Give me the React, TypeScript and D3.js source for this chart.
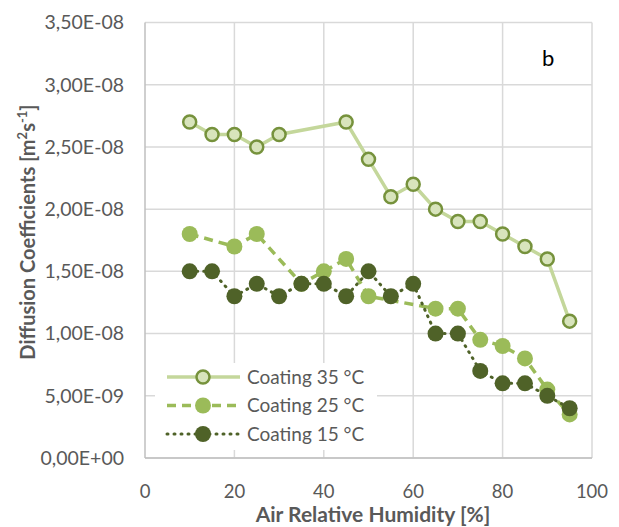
import * as d3 from "d3";

const rh35 = [10, 15, 20, 25, 30, 45, 50, 55, 60, 65, 70, 75, 80, 85, 90, 95];
const d35 = [2.7, 2.6, 2.6, 2.5, 2.6, 2.7, 2.4, 2.1, 2.2, 2.0, 1.9, 1.9, 1.8, 1.7, 1.6, 1.1];
const rh25 = [10, 20, 25, 35, 40, 45, 50, 65, 70, 75, 80, 85, 90, 95];
const d25 = [1.8, 1.7, 1.8, 1.4, 1.5, 1.6, 1.3, 1.2, 1.2, 0.95, 0.9, 0.8, 0.55, 0.35];
const rh15 = [10, 15, 20, 25, 30, 35, 40, 45, 50, 55, 60, 65, 70, 75, 80, 85, 90, 95];
const d15 = [1.5, 1.5, 1.3, 1.4, 1.3, 1.4, 1.4, 1.3, 1.5, 1.3, 1.4, 1.0, 1.0, 0.7, 0.6, 0.6, 0.5, 0.4];
const yTicks = [0, 0.5, 1.0, 1.5, 2.0, 2.5, 3.0, 3.5];
const yTickLabels = ["0,00E+00", "5,00E-09", "1,00E-08", "1,50E-08", "2,00E-08", "2,50E-08", "3,00E-08", "3,50E-08"];
const xTicks = [0, 20, 40, 60, 80, 100];
const seriesNames = ["Coating 35 °C", "Coating 25 °C", "Coating 15 °C"];

const FONT = "Lato, 'Open Sans', sans-serif";
const TXT = "#595959";

const series = [
  { name: seriesNames[0], xs: rh35, ys: d35, line: "#c4d79b", dash: null, width: 3.5, fill: "#d8e4bc", stroke: "#76923c" },
  { name: seriesNames[1], xs: rh25, ys: d25, line: "#9bbb59", dash: "9,6", width: 3.5, fill: "#9bbb59", stroke: "#9bbb59" },
  { name: seriesNames[2], xs: rh15, ys: d15, line: "#4f6228", dash: "1,6", width: 3, fill: "#4f6228", stroke: "#4f6228" },
];

export default function App() {
  const W = 619;
  const H = 527;
  const x = d3.scaleLinear().domain([0, 100]).range([145, 592]);
  const y = d3.scaleLinear().domain([0, 3.5]).range([458, 22.5]);
  const line = d3.line<[number, number]>().x((d) => x(d[0])).y((d) => y(d[1]));

  return (
    <svg width={W} height={H} style={{ position: "absolute", left: 0, top: 0, background: "#fff" }}>
      {/* grid */}
      {yTicks.map((t) => (
        <line key={"gy" + t} x1={x(0)} x2={x(100)} y1={y(t)} y2={y(t)} stroke="#d9d9d9" strokeWidth={1.5} />
      ))}
      {xTicks.slice(1).map((t) => (
        <line key={"gx" + t} x1={x(t)} x2={x(t)} y1={y(0)} y2={y(3.5)} stroke="#d9d9d9" strokeWidth={1.5} />
      ))}
      <line x1={x(0)} x2={x(0)} y1={y(0)} y2={y(3.5)} stroke="#bfbfbf" strokeWidth={1.5} />
      <line x1={x(0)} x2={x(100)} y1={y(0)} y2={y(0)} stroke="#bfbfbf" strokeWidth={1.5} />

      {/* tick labels */}
      {yTicks.map((t, i) => (
        <text key={"ty" + t} x={124} y={y(t)} dy="0.35em" textAnchor="end" fontFamily={FONT} fontSize={19.5} fill={TXT}>
          {yTickLabels[i]}
        </text>
      ))}
      {xTicks.map((t) => (
        <text key={"tx" + t} x={x(t)} y={498} textAnchor="middle" fontFamily={FONT} fontSize={18.5} fill={TXT}>
          {t}
        </text>
      ))}

      {/* axis titles */}
      <text x={373} y={522} textAnchor="middle" fontFamily={FONT} fontSize={21} fontWeight="bold" fill={TXT}>
        Air Relative Humidity [%]
      </text>
      <text transform="translate(35,232) rotate(-90)" textAnchor="middle" fontFamily={FONT} fontSize={20} fontWeight="bold" fill={TXT}>
        Diffusion Coefficients [m<tspan fontSize={13} dy={-8}>2</tspan>
        <tspan dy={8}>s</tspan>
        <tspan fontSize={13} dy={-8}>-1</tspan>
        <tspan dy={8}>]</tspan>
      </text>

      {/* series */}
      {series.map((s) => {
        const pts = s.xs.map((v, i) => [v, s.ys[i]] as [number, number]);
        return (
          <g key={s.name}>
            <path d={line(pts) ?? ""} fill="none" stroke={s.line} strokeWidth={s.width} strokeDasharray={s.dash ?? undefined} strokeLinecap={s.dash === "1,6" ? "round" : "butt"} />
            {pts.map((p, i) => (
              <circle key={i} cx={x(p[0])} cy={y(p[1])} r={s.fill === s.stroke ? 8 : 6.5} fill={s.fill} stroke={s.stroke} strokeWidth={s.fill === s.stroke ? 0 : 2.5} />
            ))}
          </g>
        );
      })}

      {/* legend */}
      <rect x={155} y={363} width={222} height={87} fill="#fff" />
      {series.map((s, i) => {
        const ly = 377 + i * 28.5;
        return (
          <g key={"lg" + i}>
            <line x1={167} x2={240} y1={ly} y2={ly} stroke={s.line} strokeWidth={s.width} strokeDasharray={s.dash ?? undefined} strokeLinecap={s.dash === "1,6" ? "round" : "butt"} />
            <circle cx={203} cy={ly} r={s.fill === s.stroke ? 8 : 6.5} fill={s.fill} stroke={s.stroke} strokeWidth={s.fill === s.stroke ? 0 : 2.5} />
            <text x={247} y={ly} dy="0.35em" fontFamily={FONT} fontSize={19} fill={TXT}>
              {s.name}
            </text>
          </g>
        );
      })}

      <text x={542} y={66} fontFamily={FONT} fontSize={22} fill="#000">b</text>
    </svg>
  );
}
